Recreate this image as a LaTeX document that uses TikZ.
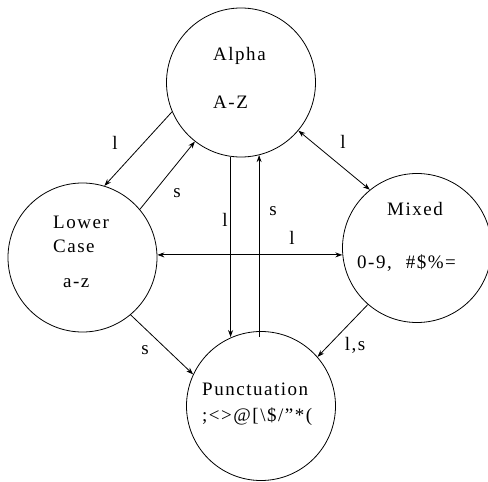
\documentclass[tikz,border=0pt]{standalone}
\usepackage{fontspec}
\setmainfont{Liberation Serif}[LetterSpace=8, Ligatures=ResetAll]
\usetikzlibrary{arrows.meta}
\tikzset{
  state/.style={draw, circle, minimum size=149pt, inner sep=0pt, line width=0.8pt},
  txt/.style={anchor=base west, inner sep=0pt, font=\fontsize{19}{22}\selectfont},
  lbl/.style={inner sep=0pt, font=\fontsize{19}{22}\selectfont},
  conn/.style={line width=0.8pt, -{Stealth[length=7pt,width=5pt]}},
  conn2/.style={line width=0.8pt, {Stealth[length=7pt,width=5pt]}-{Stealth[length=7pt,width=5pt]}}
}
\begin{document}
\begin{tikzpicture}[x=1pt,y=-1pt]
\useasboundingbox (0,0) rectangle (488,482);
\node[state] (alpha) at (241,82.5) {};
\node[state] (lower) at (82.5,257.5) {};
\node[state] (mixed) at (417,248) {};
\node[state] (punct) at (261,406) {};

\node[txt] (alphaT) at (213,60) {Alpha};
\node[txt] (alphaR) at (213,108) {A-Z};
\node[txt] (lowerT1) at (53,228) {Lower};
\node[txt] (lowerT2) at (53,252) {Case};
\node[txt] (lowerR) at (63,287) {a-z};
\node[txt] (mixedT) at (387,215) {Mixed};
\node[txt] (mixedR) at (357,268) {0-9,\hspace{14pt}\#\$\%=};
\node[txt] (punctT) at (202,395) {Punctuation};
\node[txt] (punctR) at (202,421) {;<>@[\textbackslash\$/"*(};

% connectors
\draw[conn] (alpha.203.2) -- (lower.73.6);
\draw[conn] (lower.40.3) -- (alpha.232.5);
\draw[conn2] (alpha.320.2) -- (mixed.129.8);
\draw[conn] (alpha.262.3) -- (alpha.262.3 |- punct.113.7);
\draw[conn] ([yshift=-6pt]punct.90.8 -| alpha.284.8) -- (alpha.284.8);
\draw[conn2] (lower.2.7) -- (lower.2.7 -| mixed.184.6);
\draw[conn] (lower.310.3) -- (punct.155);
\draw[conn] (mixed.229.1) -- (punct.41.8);

% labels
\node[lbl] (l1) at (115,143) {l};
\node[lbl] (s1) at (177,193) {s};
\node[lbl] (l2) at (343,142) {l};
\node[lbl] (l3) at (225,220) {l};
\node[lbl] (s2) at (273,211) {s};
\node[lbl] (l4) at (292,238) {l};
\node[lbl] (s3) at (145,350) {s};
\node[lbl] (ls) at (355,345) {l,s};
\end{tikzpicture}
\end{document}
